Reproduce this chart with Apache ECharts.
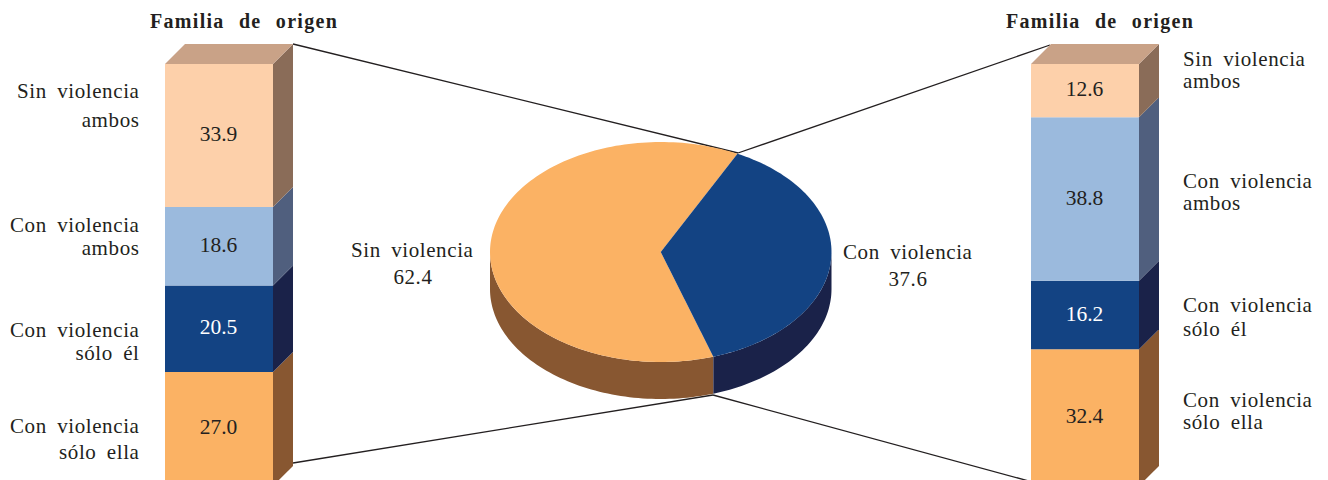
<!DOCTYPE html>
<html>
<head>
<meta charset="utf-8">
<style>
html,body{margin:0;padding:0;background:#fff;overflow:hidden}
#main{width:1328px;height:480px}
#main text[style*="21px"]{letter-spacing:0.6px;word-spacing:4.5px}
#main text[style*="bold"]{letter-spacing:1.3px;word-spacing:8px}
</style>
<script src="https://cdn.jsdelivr.net/npm/echarts@6/dist/echarts.min.js"></script>
</head>
<body>
<div id="main"></div>
<script>
// ---- data ----
const titleText = 'Familia de origen';
const stackOrder = ['Con violencia sólo ella', 'Con violencia sólo él', 'Con violencia ambos', 'Sin violencia ambos'];
const leftValues = [27.0, 20.5, 18.6, 33.9];
const rightValues = [32.4, 16.2, 38.8, 12.6];
const pieNames = ['Sin violencia', 'Con violencia'];
const pieValues = [62.4, 37.6];
const leftLabelLines = ['Sin violencia', 'ambos', 'Con violencia', 'ambos', 'Con violencia', 'sólo él', 'Con violencia', 'sólo ella'];
const rightLabelLines = ['Sin violencia', 'ambos', 'Con violencia', 'ambos', 'Con violencia', 'sólo él', 'Con violencia', 'sólo ella'];

// ---- style / layout ----
const frontColors = ['#FBB264', '#134383', '#9BBADD', '#FDD0AA'];
const sideColors = ['#885731', '#1A2249', '#505F7E', '#8A6C58'];
const topColor = '#C9A287';
const labelColors = ['#231F20', '#FFFFFF', '#231F20', '#231F20'];
const pieTopColors = ['#FBB264', '#134383'];
const pieSideColors = ['#885731', '#1A2249'];
const textColor = '#231F20';
const serif = '"Liberation Serif"';
const barDepth = 20, pieDepth = 37, pieStartDeg = 26.7;
const axisFloor = 1.4; // the bars run off the foot of the picture
const leftLabelY = [91, 120, 225, 248, 330, 353, 426, 452];
const rightLabelY = [59, 81, 181, 203, 305, 329, 400, 422];
const connectors = [
  [293, 44, 738, 153], [293, 463, 713, 395],
  [738, 153, 1050, 45], [713, 395, 1031, 481.6]
];

function stackedData(values) {
  let acc = 0;
  return values.map(v => { const s = acc; acc += v; return [0, s, acc]; });
}
function sidesSeries(values, gridIndex) {
  const last = values.length - 1;
  return {
    type: 'custom', xAxisIndex: gridIndex, yAxisIndex: gridIndex, silent: true, z: 3, clip: false,
    data: stackedData(values),
    renderItem(params, api) {
      const half = api.size([1, 0])[0] / 2;
      const lo = api.coord([0, api.value(1)]);
      const hi = api.coord([0, api.value(2)]);
      const x = lo[0] + half, xl = lo[0] - half, d = barDepth;
      const children = [{
        type: 'polygon',
        shape: { points: [[x, lo[1]], [x + d, lo[1] - d], [x + d, hi[1] - d], [x, hi[1]]] },
        style: { fill: sideColors[params.dataIndex] }
      }];
      if (params.dataIndex === last) {
        children.push({
          type: 'polygon',
          shape: { points: [[xl, hi[1]], [xl + d, hi[1] - d], [x + d, hi[1] - d], [x, hi[1]]] },
          style: { fill: topColor }
        });
      }
      return { type: 'group', children };
    }
  };
}
function barSeries(values, gridIndex) {
  return values.map((v, i) => ({
    type: 'bar', name: stackOrder[i], stack: 'g' + gridIndex, xAxisIndex: gridIndex, yAxisIndex: gridIndex,
    barWidth: '100%', silent: true, z: 4, clip: false,
    itemStyle: { color: frontColors[i] },
    label: {
      show: true, position: 'inside', offset: [-0.5, -1.5], formatter: p => p.value.toFixed(1),
      fontFamily: serif, fontSize: 21.5, color: labelColors[i]
    },
    data: [v]
  }));
}
// pie slices: clockwise from the top, in degrees
const pieTotal = pieValues.reduce((a, b) => a + b, 0);
const blueSpan = pieValues[1] / pieTotal * 360;
const pieSegments = [
  [pieStartDeg + blueSpan, pieStartDeg + 360, 0],
  [pieStartDeg, pieStartDeg + blueSpan, 1]
];
function arcPoints(api, a0, a1, dy) {
  const pts = [], n = Math.max(2, Math.ceil((a1 - a0) / 1.5));
  for (let i = 0; i <= n; i++) {
    const a = (a0 + (a1 - a0) * i / n) * Math.PI / 180;
    const c = api.coord([Math.sin(a), Math.cos(a)]);
    pts.push([c[0], c[1] + dy]);
  }
  return pts;
}
const pieSeries = {
  type: 'custom', xAxisIndex: 2, yAxisIndex: 2, silent: true, z: 2, clip: false,
  data: pieSegments,
  renderItem(params, api) {
    const a0 = api.value(0), a1 = api.value(1), k = api.value(2);
    const children = [];
    const s0 = Math.max(a0, 90), s1 = Math.min(a1, 270);
    if (s1 > s0) {
      const topEdge = arcPoints(api, s0, s1, 0);
      const lowEdge = arcPoints(api, s0, s1, pieDepth).reverse();
      children.push({ type: 'polygon', shape: { points: topEdge.concat(lowEdge) }, style: { fill: pieSideColors[k] } });
    }
    const centre = api.coord([0, 0]);
    children.push({
      type: 'polygon',
      shape: { points: [centre].concat(arcPoints(api, a0, a1, 0)) },
      style: { fill: pieTopColors[k] }
    });
    return { type: 'group', children };
  }
};
function textEl(text, x, y, align, extra) {
  return {
    type: 'text', x, y, silent: true, z: 10,
    style: Object.assign({
      text, fill: textColor, font: '21px ' + serif, textAlign: align, textVerticalAlign: 'middle'
    }, extra || {})
  };
}
const graphics = [];
connectors.forEach(c => graphics.push({
  type: 'line', silent: true, z: 1,
  shape: { x1: c[0], y1: c[1], x2: c[2], y2: c[3] },
  style: { stroke: textColor, lineWidth: 1.3 }
}));
leftLabelLines.forEach((t, i) => graphics.push(textEl(t, 139.5, leftLabelY[i], 'right')));
rightLabelLines.forEach((t, i) => graphics.push(textEl(t, 1183, rightLabelY[i], 'left')));
graphics.push(textEl(pieNames[0], 473.5, 250, 'right'));
graphics.push(textEl(pieValues[0].toFixed(1), 413, 277, 'center'));
graphics.push(textEl(pieNames[1], 843, 252, 'left'));
graphics.push(textEl(pieValues[1].toFixed(1), 908, 279, 'center'));
[[150, 21], [1006, 21]].forEach(p => graphics.push(textEl(titleText, p[0], p[1], 'left', { font: 'bold 20px ' + serif })));

const chart = echarts.init(document.getElementById('main'), null, { renderer: 'svg' });
chart.setOption({
  animation: false,
  backgroundColor: '#fff',
  grid: [
    { left: 165, top: 64, width: 108, height: 416 },
    { left: 1031, top: 64, width: 108, height: 416 },
    { left: 490, top: 142, width: 341.5, height: 220 }
  ],
  xAxis: [
    { type: 'category', gridIndex: 0, show: false, data: [titleText] },
    { type: 'category', gridIndex: 1, show: false, data: [titleText] },
    { type: 'value', gridIndex: 2, show: false, min: -1, max: 1 }
  ],
  yAxis: [
    { type: 'value', gridIndex: 0, show: false, min: axisFloor, max: 100 },
    { type: 'value', gridIndex: 1, show: false, min: axisFloor, max: 100 },
    { type: 'value', gridIndex: 2, show: false, min: -1, max: 1 }
  ],
  series: [
    sidesSeries(leftValues, 0),
    sidesSeries(rightValues, 1),
    pieSeries
  ].concat(barSeries(leftValues, 0), barSeries(rightValues, 1)),
  graphic: { elements: graphics }
});
</script>
</body>
</html>
